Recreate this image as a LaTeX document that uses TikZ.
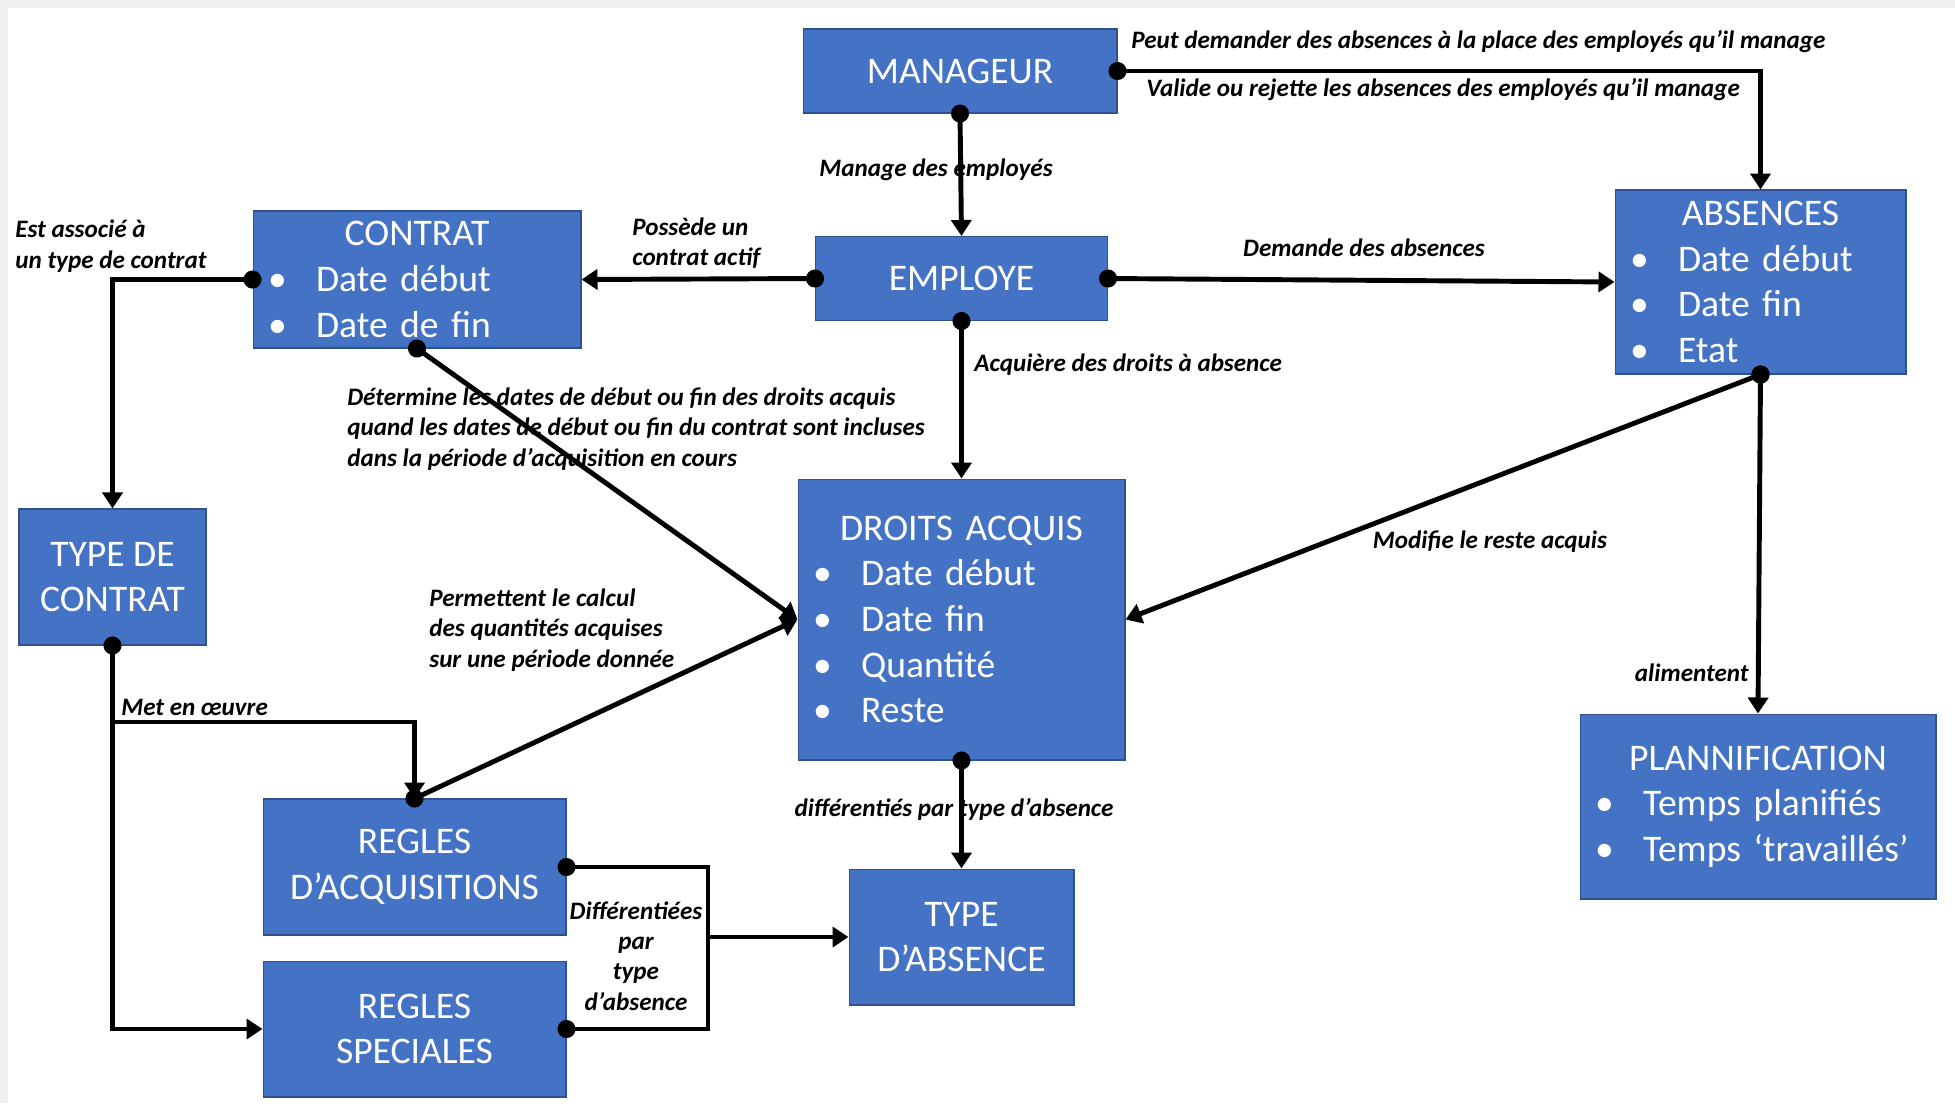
\documentclass[tikz,border=0pt]{standalone}
\usepackage{fontspec}
\setmainfont{Carlito}
\usetikzlibrary{arrows.meta}
\definecolor{boxblue}{RGB}{68,114,196}
\definecolor{boxedge}{RGB}{47,82,143}
\definecolor{framegray}{RGB}{240,240,240}

% puce d'une liste dans une boite
\newcommand{\puce}[1]{\makebox[0.96cm][l]{\textbullet}#1}

\tikzset{
  entite/.style={draw=boxedge, line width=0.6pt, fill=boxblue, text=white, inner xsep=0.3cm, inner ysep=0pt, font=\fontsize{21.4}{26}\selectfont},
  etiquette/.style={inner sep=0pt, font=\fontsize{14.3}{17.3}\selectfont\bfseries\itshape},
  lien/.style={line width=2.8pt, {Circle[length=0.36cm]}-{Triangle[length=0.32cm,width=0.4cm]}, shorten <=-0.18cm},
  fleche/.style={line width=2.8pt, -{Triangle[length=0.32cm,width=0.4cm]}},
  crochet/.style={line width=2.8pt, {Circle[length=0.36cm]}-{Circle[length=0.36cm]}, shorten <=-0.18cm, shorten >=-0.18cm}
}

\begin{document}
\begin{tikzpicture}[x=0.02cm, y=-0.02cm]
\useasboundingbox (0,0) rectangle (1955,1103);
\fill[framegray] (0,0) rectangle (1955,1103);
\fill[white] (8,8) rectangle (1955,1103);

% Boites
\node[entite, align=center, minimum width=6.28cm, minimum height=1.68cm] (manageur) at (960,71) {MANAGEUR};
\node[entite, align=center, minimum width=5.84cm, minimum height=1.68cm] (employe) at (961.5,278.5) {EMPLOYE};
\node[entite, text width=5.96cm, minimum height=2.74cm] (contrat) at (417,279.5) {\centering CONTRAT\par\raggedright\puce{Date début}\par\puce{Date de fin}};
\node[entite, text width=5.22cm, minimum height=3.68cm] (absences) at (1760.5,282) {\centering ABSENCES\par\raggedright\puce{Date début}\par\puce{Date fin}\par\puce{Etat}};
\node[entite, align=center, minimum width=3.74cm, minimum height=2.72cm] (tcontrat) at (112.5,577) {TYPE DE\\CONTRAT};
\node[entite, text width=5.94cm, minimum height=5.62cm] (droits) at (961.5,619.5) {\centering DROITS ACQUIS\par\raggedright\puce{Date début}\par\puce{Date fin}\par\puce{Quantité}\par\puce{Reste}};
\node[entite, text width=6.52cm, minimum height=3.7cm] (plann) at (1758,806.5) {\centering PLANNIFICATION\par\raggedright\puce{Temps planifiés}\par\puce{Temps ‘travaillés’}};
\node[entite, align=center, minimum width=6.06cm, minimum height=2.72cm] (racq) at (414.5,867) {REGLES\\D’ACQUISITIONS};
\node[entite, align=center, minimum width=6.06cm, minimum height=2.72cm] (rspec) at (414.5,1029) {REGLES\\SPECIALES};
\node[entite, align=center, minimum width=4.5cm, minimum height=2.72cm] (tabsence) at (961.5,937) {TYPE\\D’ABSENCE};

% Etiquettes
\node[etiquette, anchor=west] (l-peut) at (1131,42) {Peut demander des absences à la place des employés qu’il manage};
\node[etiquette, anchor=west] (l-valide) at (1146,90) {Valide ou rejette les absences des employés qu’il manage};
\node[etiquette] (l-manage) at (936,170) {Manage des employés};
\node[etiquette, anchor=west, align=left] (l-possede) at (632,243) {Possède un\\contrat actif};
\node[etiquette] (l-demande) at (1364,248) {Demande des absences};
\node[etiquette, anchor=west] (l-acquiere) at (974,365) {Acquière des droits à absence};
\node[etiquette, anchor=west, align=left] (l-associe) at (15,246) {Est associé à\\un type de contrat};
\node[etiquette, anchor=west, align=left] (l-determine) at (347,429) {Détermine les dates de début ou fin des droits acquis\\quand les dates de début ou fin du contrat sont incluses\\dans la période d’acquisition en cours};
\node[etiquette, anchor=west, align=left] (l-permettent) at (429,630) {Permettent le calcul\\des quantités acquises\\sur une période donnée};
\node[etiquette] (l-modifie) at (1490,542) {Modifie le reste acquis};
\node[etiquette, anchor=east] (l-alimentent) at (1749,673) {alimentent};
\node[etiquette, anchor=west] (l-oeuvre) at (121,707) {Met en œuvre};
\node[etiquette] (l-differencies) at (954,809) {différentiés par type d’absence};
\node[etiquette, align=center] (l-differenciees) at (636,956) {Différentiées\\par\\type\\d’absence};

% Liens
\draw[lien] (manageur.east) -| (absences.north);
\draw[lien] (manageur.south) -- (employe.north);
\draw[lien] (employe.west) -- (contrat.east);
\draw[lien] (employe.east) -- (absences.west);
\draw[lien] (employe.south) -- (droits.north);
\draw[lien] (contrat.west) -| (tcontrat.north);
\draw[lien] (contrat.south) -- (droits.west);
\draw[lien] (tcontrat.south) |- (rspec.west);
\coordinate (oeuvre) at (112.5,722);
\draw[fleche] (oeuvre) -| (racq.north);
\draw[lien] (racq.north) -- (droits.west);
\coordinate (bras) at (708,937);
\draw[crochet] (racq.east) -| (bras) |- (rspec.east);
\draw[fleche] (bras) -- (tabsence.west);
\draw[lien] (droits.south) -- (tabsence.north);
\draw[lien] (absences.south) -- (droits.east);
\draw[lien] (absences.south) -- (plann.north);
\end{tikzpicture}
\end{document}
